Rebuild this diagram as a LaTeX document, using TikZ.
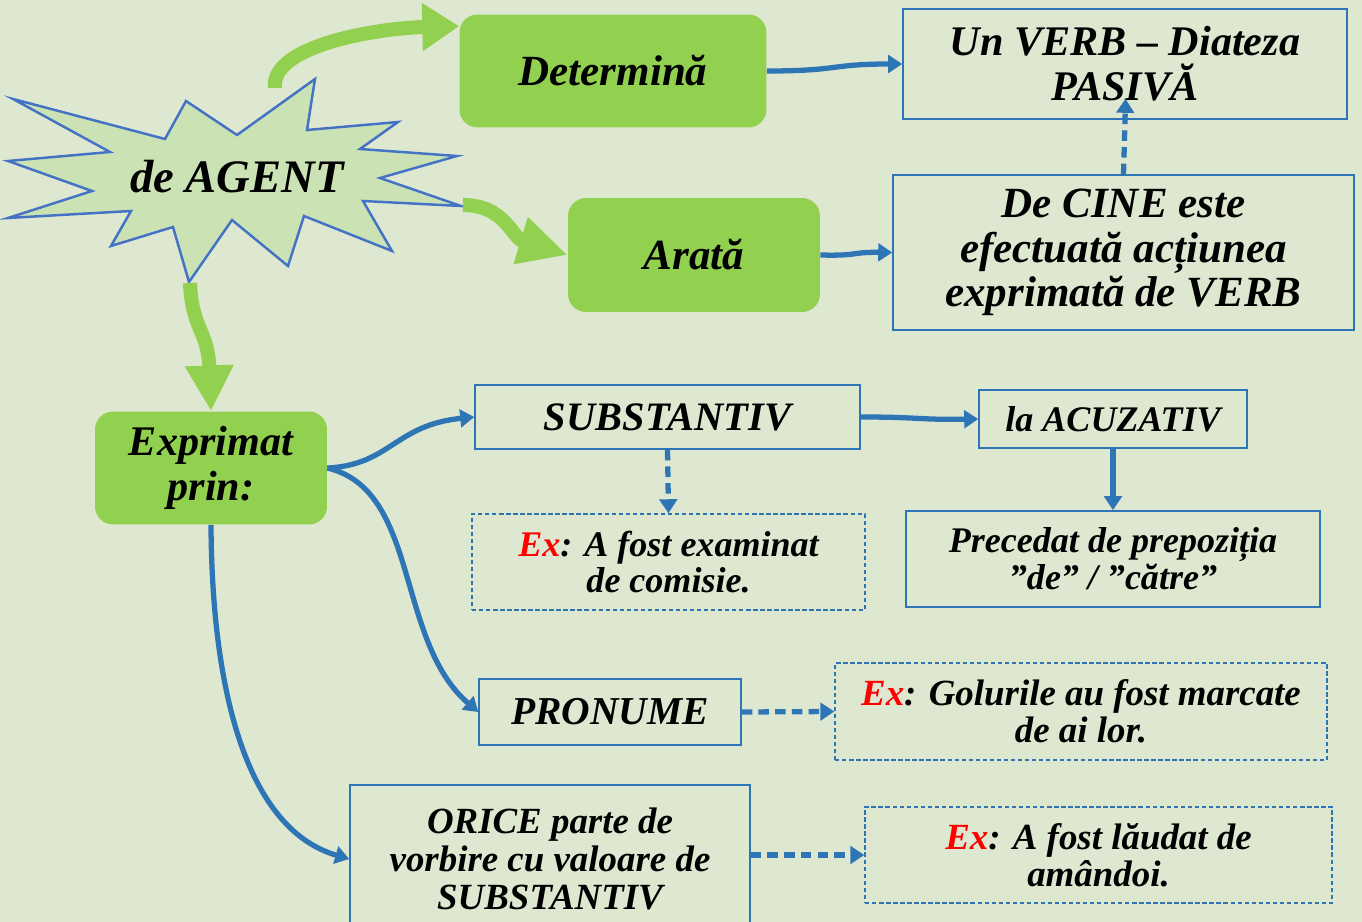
\documentclass[tikz,border=0pt]{standalone}
\usepackage{fontspec}
\setmainfont{Liberation Serif}
\usetikzlibrary{arrows.meta}

\definecolor{bgcol}{RGB}{222,232,209}
\definecolor{starfill}{RGB}{202,226,180}
\definecolor{starline}{RGB}{68,114,196}
\definecolor{boxgreen}{RGB}{146,208,80}
\definecolor{lineblue}{RGB}{46,117,182}

\newcommand{\txtsize}[2]{\fontsize{#1}{#2}\selectfont\bfseries\itshape}

\begin{document}
\begin{tikzpicture}[
    x=0.02cm, y=-0.02cm,
    greenbox/.style={rectangle, rounded corners=0.36cm, fill=boxgreen, inner sep=0pt, align=center},
    bluebox/.style={rectangle, draw=lineblue, line width=0.9pt, inner sep=0pt, align=center},
    exbox/.style={bluebox, dash pattern=on 2.5pt off 1.5pt, line width=0.8pt},
    garrow/.style={line width=8pt, boxgreen, -{Triangle[length=#1,width=26pt]}},
    garrow/.default=21pt,
    barrow/.style={line width=3pt, lineblue, -{Triangle[length=8pt,width=10pt]}},
    bdash/.style={barrow, dash pattern=on 6pt off 3.5pt},
]

% ---- page ----
\fill[bgcol] (0,0) rectangle (1362,922);
\useasboundingbox (0,0) rectangle (1362,922);

% ---- starburst ----
\draw[starline, fill=starfill, line width=1.4pt, line join=miter]
  (13,99) -- (165,139) -- (186,101) -- (237,135) -- (315,79) -- (307,130)
  -- (398,122) -- (360,149) -- (457,156) -- (380,178) -- (461,206) -- (363,201)
  -- (392,251) -- (304,216) -- (288,266) -- (232,220) -- (189,282) -- (173,227)
  -- (111,246) -- (131,211) -- (8,218) -- (92,191) -- (8,161) -- (110,152) -- cycle;
\node[font=\txtsize{26.5}{30}] (agent) at (237,177) {de AGENT};
\coordinate (gtop) at (275,88);
\coordinate (gright) at (463,205);
\coordinate (gdown) at (190,283);

% ---- green boxes ----
\node[greenbox, minimum width=6.14cm, minimum height=2.26cm, font=\txtsize{24.5}{28}] (det) at (613,71) {Determină};
\node[greenbox, minimum width=5.04cm, minimum height=2.28cm, font=\txtsize{24.5}{28}] (arata) at (694,255) {Arată};
\node[greenbox, minimum width=4.64cm, minimum height=2.26cm, font=\txtsize{24}{25.5}] (expr) at (211,468) {Exprimat\\prin:};

% ---- blue boxes ----
\node[bluebox, minimum width=8.88cm, minimum height=2.2cm, font=\txtsize{24}{25.5}] (verb) at (1125,64) {Un VERB – Diateza\\PASIVĂ};
\node[bluebox, minimum width=9.22cm, minimum height=3.1cm, font=\txtsize{24.5}{25.5}] (cine) at (1123.5,252.5) {De CINE este\\efectuată acțiunea\\exprimată de VERB};
\node[bluebox, minimum width=7.7cm, minimum height=1.28cm, font=\txtsize{23}{26}] (subst) at (667.5,417) {SUBSTANTIV};
\node[bluebox, minimum width=5.36cm, minimum height=1.16cm, font=\txtsize{20.5}{23}] (acuz) at (1113,419) {la ACUZATIV};
\node[bluebox, minimum width=8.28cm, minimum height=1.92cm, font=\txtsize{20.5}{21}] (prec) at (1113,559) {Precedat de prepoziția\\”de” / ”către”};
\node[bluebox, minimum width=5.24cm, minimum height=1.32cm, font=\txtsize{22.5}{26}] (pron) at (610,712) {PRONUME};
\node[bluebox, minimum width=8cm, minimum height=2.96cm, font=\txtsize{21}{21.5}] (orice) at (550,859) {ORICE parte de\\vorbire cu valoare de\\SUBSTANTIV};

% ---- examples ----
\node[exbox, minimum width=7.86cm, minimum height=1.92cm, font=\txtsize{20.5}{20.5}] (ex1) at (668.5,562) {\textcolor{red}{Ex}: A fost examinat\\de comisie.};
\node[exbox, minimum width=9.84cm, minimum height=1.94cm, font=\txtsize{21}{21}] (ex2) at (1081,711.5) {\textcolor{red}{Ex}: Golurile au fost marcate\\de ai lor.};
\node[exbox, minimum width=9.34cm, minimum height=1.92cm, font=\txtsize{21}{21}] (ex3) at (1098.5,855) {\textcolor{red}{Ex}: A fost lăudat de\\amândoi.};

% ---- green arrows ----
\draw[garrow] (gtop) .. controls (270,45) and (380,28) .. ([yshift=-0.24cm]det.north west);
\draw[garrow=28pt] (gright) .. controls (505,205) and (512,238) .. (arata.west);
\draw[garrow=26pt] (gdown) .. controls (192,330) and (208,330) .. (expr.north);

% ---- blue arrows ----
\draw[barrow] (det.east) .. controls (840,71) and (830,64) .. (verb.west);
\draw[barrow] (arata.east) .. controls (860,256) and (850,252) .. (cine.west);
\draw[bdash, shorten >=-0.42cm] (cine.north) -- (verb.south);
\draw[barrow] (expr.east) .. controls (390,465) and (395,425) .. (subst.west);
\draw[barrow] (expr.east) .. controls (420,490) and (395,640) .. (pron.west);
\draw[barrow] (expr.south) .. controls (212,700) and (250,830) .. (orice.west);
\draw[barrow] (subst.east) .. controls (920,417) and (920,420) .. (acuz.west);
\draw[bdash] (subst.south) -- (ex1.north);
\draw[barrow] (acuz.south) -- (prec.north);
\draw[bdash] (pron.east) -- (ex2.west);
\draw[bdash] (orice.east |- ex3.west) -- (ex3.west);

\end{tikzpicture}
\end{document}
